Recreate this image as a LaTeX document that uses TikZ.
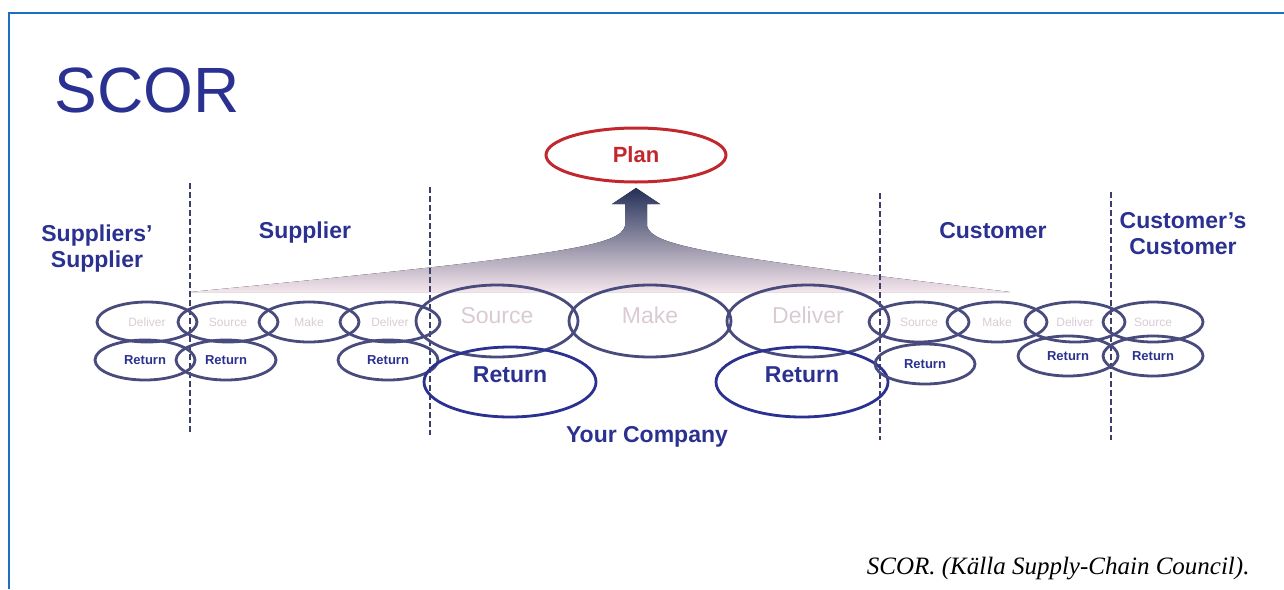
\documentclass[tikz,border=0pt]{standalone}
\usepackage{fontspec}
\setmainfont{Liberation Sans}
\newfontfamily\captionfont{Liberation Serif}
\usetikzlibrary{shapes.geometric}

\definecolor{scorblue}{HTML}{2B3190}
\definecolor{ringgrey}{HTML}{484B7C}
\definecolor{palelabel}{HTML}{D9CAD4}
\definecolor{planred}{HTML}{C1272D}
\definecolor{frameblue}{HTML}{1F6FC0}
\definecolor{fountaintop}{HTML}{243058}
\definecolor{fountainmid}{HTML}{5F5886}
\definecolor{fountainlow}{HTML}{F5E6EC}
\definecolor{dashgrey}{HTML}{3C3F6C}

\tikzset{
  smallring/.style={ellipse, draw=ringgrey, line width=2.8pt, minimum width=100pt,
    minimum height=40pt, inner sep=0pt, text=palelabel, font=\fontsize{12}{12}\selectfont},
  smallreturn/.style={smallring, text=scorblue, font=\fontsize{13}{13}\selectfont\bfseries},
  bigring/.style={ellipse, draw=ringgrey, line width=2.8pt, minimum width=162pt,
    minimum height=72pt, inner sep=0pt, text depth=12pt, text=palelabel,
    font=\fontsize{23}{23}\selectfont},
  bigreturn/.style={bigring, draw=scorblue, text=scorblue, minimum width=172pt,
    minimum height=70pt, text depth=14pt, font=\fontsize{23}{23}\selectfont\bfseries},
  region/.style={text=scorblue, align=center, font=\fontsize{23}{26}\selectfont\bfseries},
  divider/.style={dashgrey, line width=1.8pt, dash pattern=on 6pt off 3pt},
}

\begin{document}
\begin{tikzpicture}[x=1pt, y=-1pt]
        \useasboundingbox (0,0) rectangle (1284,589);

        % Frame
        \draw[frameblue, line width=2.5pt] (9,589) -- (9,13) -- (1284,13);

        % Title
        \node[text=scorblue, font=\fontsize{64}{64}\selectfont] (title) at (147,90) {SCOR};

        % Arrow up to Plan
        \fill[top color=fountaintop, middle color=fountainmid, bottom color=fountainlow]
          (636,188) -- (660,204) -- (647,204) -- (647,226)
          .. controls (652,245) and (700,255) .. (1010,292) -- (190,292)
          .. controls (572,255) and (620,245) .. (625,226)
          -- (625,204) -- (612,204) -- cycle;
        \node[ellipse, draw=planred, line width=3pt, minimum width=180pt, minimum height=54pt,
          inner sep=0pt, text=planred, font=\fontsize{22}{22}\selectfont\bfseries] (plan) at (636,155) {Plan};

        % Dividers
        \draw[divider] (190,183) -- (190,432);
        \draw[divider] (430,187) -- (430,435);
        \draw[divider] (880,193) -- (880,440);
        \draw[divider] (1111,192) -- (1111,440);

        % Region labels
        \node[region] (ssup) at (97,249) {Suppliers'\\Supplier};
        \node[region] (sup) at (305,233) {Supplier};
        \node[region] (cust) at (993,231) {Customer};
        \node[region] (ccust) at (1183,234) {Customer's\\Customer};
        \node[region] (yours) at (647,437) {Your Company};

        % Suppliers' supplier and supplier
        \node[smallring] (ssDeliver) at (147,322) {Deliver};
        \node[smallring] (sSource) at (228,322) {Source};
        \node[smallring] (sMake) at (309,322) {Make};
        \node[smallring] (sDeliver) at (390,322) {Deliver};
        \node[smallreturn] (ssReturn) at (145,360) {Return};
        \node[smallreturn] (sReturnA) at (226,360) {Return};
        \node[smallreturn] (sReturnB) at (388,360) {Return};

        % Your company
        \node[bigring] (ySource) at (497,321) {Source};
        \node[bigring] (yMake) at (650,321) {Make};
        \node[bigring] (yDeliver) at (808,321) {Deliver};
        \node[bigreturn] (yReturnA) at (510,382) {Return};
        \node[bigreturn] (yReturnB) at (802,382) {Return};

        % Customer and customer's customer
        \node[smallring] (cSource) at (919,322) {Source};
        \node[smallring] (cMake) at (997,322) {Make};
        \node[smallring] (cDeliver) at (1075,322) {Deliver};
        \node[smallring] (ccSource) at (1153,322) {Source};
        \node[smallreturn] (cReturnA) at (925,364) {Return};
        \node[smallreturn] (cReturnB) at (1068,356) {Return};
        \node[smallreturn] (ccReturn) at (1153,356) {Return};

        % Source note
        \node[anchor=base east, font=\captionfont\itshape\fontsize{25}{25}\selectfont] (note) at (1253,574)
          {SCOR. (Källa Supply-Chain Council).};
    \end{tikzpicture}
\end{document}
